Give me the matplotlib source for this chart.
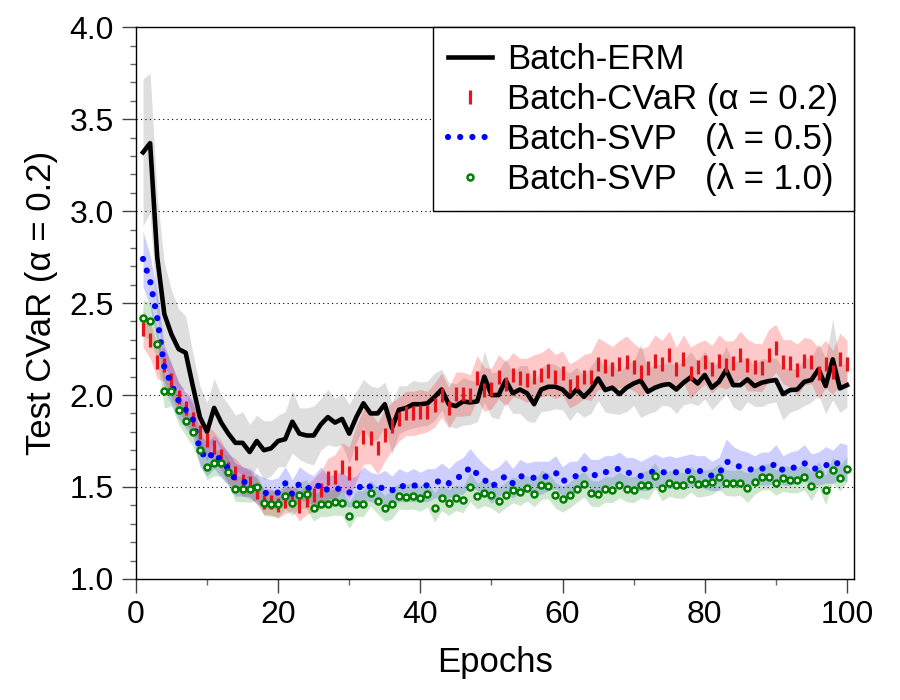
"""
Test CVaR vs. epochs for batch training methods
"""

import numpy as np
import matplotlib.pyplot as plt
from matplotlib.ticker import MultipleLocator

plt.rcParams['font.family'] = ['Liberation Sans', 'DejaVu Sans']

# ---- data ----
epochs = list(range(1, 101))

erm = [3.32, 3.37, 2.75, 2.44, 2.33, 2.25, 2.23, 2.05, 1.88, 1.80,
       1.93, 1.85, 1.79, 1.74, 1.74, 1.69, 1.75, 1.70, 1.71, 1.75,
       1.76, 1.855, 1.79, 1.78, 1.78, 1.84, 1.88, 1.85, 1.87, 1.79,
       1.88, 1.955, 1.90, 1.90, 1.95, 1.82, 1.92, 1.93, 1.95, 1.95,
       1.955, 1.99, 2.03, 1.95, 1.94, 1.965, 1.96, 1.965, 2.10, 2.00,
       2.00, 2.08, 2.01, 2.03, 2.01, 1.95, 2.03, 2.045, 2.045, 2.03,
       1.99, 2.03, 1.99, 2.03, 2.09, 2.027, 2.04, 2.005, 2.04, 2.063,
       2.078, 2.018, 2.04, 2.054, 2.06, 2.03, 2.067, 2.096, 2.063, 2.109,
       2.04, 2.072, 2.136, 2.054, 2.054, 2.085, 2.049, 2.067, 2.076, 2.082,
       2.005, 2.027, 2.03, 2.072, 2.082, 2.14, 2.049, 2.194, 2.036, 2.054]

erm_spread = [0.40, 0.38, 0.33, 0.28, 0.24, 0.22, 0.20, 0.18, 0.17, 0.16,
              0.16, 0.15, 0.16, 0.15, 0.17, 0.15, 0.14, 0.16, 0.15, 0.14,
              0.15, 0.17, 0.14, 0.15, 0.16, 0.14, 0.15, 0.13, 0.14, 0.16,
              0.14, 0.13, 0.15, 0.14, 0.12, 0.14, 0.13, 0.12, 0.13, 0.12,
              0.12, 0.13, 0.11, 0.12, 0.12, 0.13, 0.12, 0.11, 0.14, 0.12,
              0.13, 0.12, 0.11, 0.13, 0.15, 0.10, 0.12, 0.13, 0.12, 0.11,
              0.13, 0.12, 0.11, 0.13, 0.12, 0.12, 0.14, 0.11, 0.13, 0.12,
              0.20, 0.12, 0.13, 0.11, 0.12, 0.13, 0.12, 0.14, 0.12, 0.13,
              0.12, 0.11, 0.13, 0.12, 0.14, 0.12, 0.11, 0.13, 0.12, 0.12,
              0.14, 0.12, 0.11, 0.13, 0.12, 0.14, 0.15, 0.22, 0.13, 0.12]

cvar = [2.36, 2.30, 2.18, 2.165, 2.08, 1.99, 1.93, 1.87, 1.80, 1.755,
        1.72, 1.67, 1.60, 1.574, 1.53, 1.52, 1.475, 1.42, 1.42, 1.40,
        1.425, 1.44, 1.395, 1.43, 1.456, 1.484, 1.547, 1.556, 1.61, 1.578,
        1.683, 1.774, 1.765, 1.71, 1.78, 1.83, 1.87, 1.90, 1.90, 1.91,
        1.91, 1.945, 2.00, 1.93, 2.005, 2.005, 2.00, 2.095, 2.03, 2.035,
        2.10, 2.06, 2.11, 2.09, 2.08, 2.10, 2.11, 2.13, 2.10, 2.12,
        2.05, 2.07, 2.10, 2.10, 2.17, 2.158, 2.143, 2.167, 2.181, 2.152,
        2.123, 2.145, 2.187, 2.168, 2.217, 2.14, 2.197, 2.121, 2.154, 2.179,
        2.14, 2.187, 2.163, 2.176, 2.217, 2.163, 2.152, 2.148, 2.217, 2.254,
        2.181, 2.172, 2.136, 2.185, 2.181, 2.118, 2.168, 2.123, 2.196, 2.168]

cvar_spread = [0.10, 0.10, 0.09, 0.09, 0.09, 0.08, 0.08, 0.08, 0.08, 0.08,
               0.08, 0.08, 0.08, 0.08, 0.08, 0.07, 0.07, 0.07, 0.07, 0.07,
               0.07, 0.07, 0.08, 0.08, 0.09, 0.10, 0.11, 0.12, 0.13, 0.14,
               0.15, 0.15, 0.14, 0.14, 0.14, 0.13, 0.12, 0.12, 0.12, 0.12,
               0.11, 0.12, 0.12, 0.11, 0.12, 0.12, 0.11, 0.12, 0.12, 0.11,
               0.12, 0.12, 0.12, 0.11, 0.12, 0.12, 0.12, 0.13, 0.12, 0.12,
               0.12, 0.12, 0.12, 0.13, 0.14, 0.13, 0.12, 0.13, 0.14, 0.13,
               0.13, 0.12, 0.14, 0.13, 0.13, 0.12, 0.13, 0.14, 0.13, 0.12,
               0.13, 0.14, 0.13, 0.12, 0.13, 0.14, 0.13, 0.13, 0.14, 0.13,
               0.12, 0.13, 0.14, 0.13, 0.12, 0.14, 0.13, 0.12, 0.14, 0.13]

svp05 = [2.74, 2.62, 2.42, 2.15, 2.06, 1.97, 1.92, 1.87, 1.70, 1.65,
         1.69, 1.64, 1.60, 1.54, 1.53, 1.52, 1.49, 1.47, 1.46, 1.47,
         1.52, 1.46, 1.52, 1.50, 1.48, 1.52, 1.48, 1.49, 1.49, 1.47,
         1.48, 1.52, 1.50, 1.49, 1.50, 1.48, 1.51, 1.50, 1.51, 1.50,
         1.51, 1.52, 1.54, 1.52, 1.55, 1.56, 1.61, 1.57, 1.54, 1.50,
         1.53, 1.56, 1.52, 1.56, 1.55, 1.55, 1.55, 1.56, 1.58, 1.53,
         1.55, 1.56, 1.60, 1.57, 1.56, 1.58, 1.59, 1.60, 1.58, 1.57,
         1.56, 1.57, 1.59, 1.58, 1.58, 1.58, 1.58, 1.59, 1.59, 1.58,
         1.56, 1.57, 1.64, 1.62, 1.61, 1.60, 1.59, 1.60, 1.60, 1.63,
         1.59, 1.60, 1.61, 1.63, 1.60, 1.60, 1.62, 1.61, 1.64, 1.63]

svp05_spread = [0.15, 0.14, 0.13, 0.12, 0.11, 0.10, 0.10, 0.10, 0.09, 0.09,
                0.09, 0.09, 0.09, 0.09, 0.08, 0.08, 0.08, 0.08, 0.08, 0.08,
                0.09, 0.08, 0.09, 0.08, 0.08, 0.09, 0.08, 0.08, 0.09, 0.08,
                0.08, 0.09, 0.08, 0.08, 0.09, 0.08, 0.09, 0.08, 0.09, 0.08,
                0.09, 0.08, 0.09, 0.08, 0.09, 0.10, 0.10, 0.09, 0.08, 0.09,
                0.08, 0.09, 0.08, 0.09, 0.08, 0.09, 0.09, 0.08, 0.09, 0.08,
                0.09, 0.08, 0.09, 0.08, 0.09, 0.09, 0.08, 0.09, 0.08, 0.09,
                0.08, 0.09, 0.09, 0.08, 0.09, 0.08, 0.09, 0.09, 0.08, 0.09,
                0.08, 0.09, 0.12, 0.10, 0.09, 0.09, 0.08, 0.09, 0.09, 0.10,
                0.08, 0.09, 0.09, 0.10, 0.08, 0.09, 0.10, 0.09, 0.10, 0.10]

svp10 = [2.42, 2.40, 2.28, 2.02, 2.02, 1.92, 1.86, 1.80, 1.70, 1.61,
         1.63, 1.63, 1.58, 1.49, 1.49, 1.487, 1.498, 1.415, 1.41, 1.406,
         1.45, 1.415, 1.456, 1.46, 1.384, 1.41, 1.41, 1.417, 1.415, 1.344,
         1.41, 1.41, 1.466, 1.424, 1.384, 1.406, 1.45, 1.447, 1.45, 1.438,
         1.46, 1.388, 1.442, 1.415, 1.442, 1.43, 1.50, 1.45, 1.469, 1.456,
         1.426, 1.456, 1.484, 1.47, 1.493, 1.462, 1.511, 1.507, 1.455, 1.433,
         1.456, 1.487, 1.516, 1.466, 1.462, 1.487, 1.484, 1.511, 1.489, 1.484,
         1.511, 1.511, 1.562, 1.493, 1.52, 1.509, 1.509, 1.542, 1.514, 1.52,
         1.529, 1.556, 1.524, 1.52, 1.524, 1.496, 1.529, 1.553, 1.556, 1.524,
         1.547, 1.538, 1.538, 1.553, 1.505, 1.569, 1.484, 1.592, 1.547, 1.596]

svp10_spread = [0.10, 0.10, 0.09, 0.09, 0.08, 0.08, 0.08, 0.08, 0.07, 0.07,
                0.07, 0.07, 0.07, 0.07, 0.07, 0.07, 0.07, 0.07, 0.07, 0.07,
                0.07, 0.07, 0.07, 0.08, 0.07, 0.07, 0.07, 0.07, 0.07, 0.07,
                0.07, 0.07, 0.07, 0.07, 0.07, 0.08, 0.07, 0.07, 0.07, 0.07,
                0.07, 0.08, 0.07, 0.07, 0.07, 0.07, 0.08, 0.07, 0.07, 0.07,
                0.07, 0.07, 0.07, 0.07, 0.07, 0.07, 0.08, 0.07, 0.07, 0.07,
                0.07, 0.07, 0.07, 0.07, 0.07, 0.07, 0.07, 0.07, 0.07, 0.07,
                0.07, 0.08, 0.07, 0.07, 0.07, 0.07, 0.07, 0.07, 0.07, 0.07,
                0.07, 0.07, 0.07, 0.07, 0.07, 0.08, 0.07, 0.07, 0.07, 0.07,
                0.07, 0.07, 0.07, 0.07, 0.08, 0.07, 0.08, 0.07, 0.07, 0.07]

labels = ['Batch-ERM',
          'Batch-CVaR (\u03b1 = 0.2)',
          'Batch-SVP   (\u03bb = 0.5)',
          'Batch-SVP   (\u03bb = 1.0)']


def band(ax, y, s, color, alpha):
    y = np.asarray(y)
    s = np.asarray(s)
    ax.fill_between(epochs, y - s, y + s, color=color, alpha=alpha, lw=0)


fig = plt.figure(figsize=(9, 7), dpi=100)
ax = fig.add_axes([0.151, 0.173, 0.798, 0.788])

# shaded bands
band(ax, erm, erm_spread, 'black', 0.13)
band(ax, cvar, cvar_spread, 'red', 0.21)
band(ax, svp05, svp05_spread, 'blue', 0.19)
band(ax, svp10, svp10_spread, 'green', 0.19)

# lines / markers
ax.plot(epochs, erm, color='black', lw=3.3, label=labels[0], zorder=3)
ax.plot(epochs, cvar, ls='none', marker='|', ms=9.5, mew=2.3,
        color='#e8141c', label=labels[1], zorder=4)
ax.plot(epochs, svp05, color='blue', lw=4.5, ls=(0, (0.001, 1.95)),
        dash_capstyle='round', label=labels[2], zorder=5)
ax.plot(epochs, svp10, ls='none', marker='o', ms=4.3, mew=1.8,
        mec='green', mfc='white', label=labels[3], zorder=6)

ax.set_xlim(0, 101)
ax.set_ylim(1.0, 4.0)
ax.xaxis.set_major_locator(MultipleLocator(20))
ax.xaxis.set_minor_locator(MultipleLocator(10))
ax.yaxis.set_major_locator(MultipleLocator(0.5))
ax.yaxis.set_minor_locator(MultipleLocator(0.1))
ax.yaxis.set_major_formatter(plt.FormatStrFormatter('%.1f'))

ax.tick_params(which='major', direction='out', length=10, width=1,
               color='#444444', labelsize=23, pad=5)
ax.tick_params(which='minor', direction='out', length=4.5, width=1,
               color='#666666')
ax.tick_params(axis='y', which='major', pad=6)

for sp in ax.spines.values():
    sp.set_linewidth(1.0)

# dotted grid lines
for yv in [1.5, 2.0, 2.5, 3.0, 3.5]:
    ax.axhline(yv, color='black', ls=(0, (1, 3)), lw=0.8, zorder=0)

ax.set_xlabel('Epochs', fontsize=25, labelpad=12)
ax.set_ylabel('Test CVaR (\u03b1 = 0.2)', fontsize=25, labelpad=8)

leg = ax.legend(loc='upper right', fontsize=25, numpoints=1,
                borderaxespad=0, fancybox=False, framealpha=1,
                edgecolor='black', handlelength=1.25, handletextpad=0.45,
                labelspacing=0.2, borderpad=0.45)
leg.get_frame().set_linewidth(1.0)

plt.savefig('out.png', dpi=100)
